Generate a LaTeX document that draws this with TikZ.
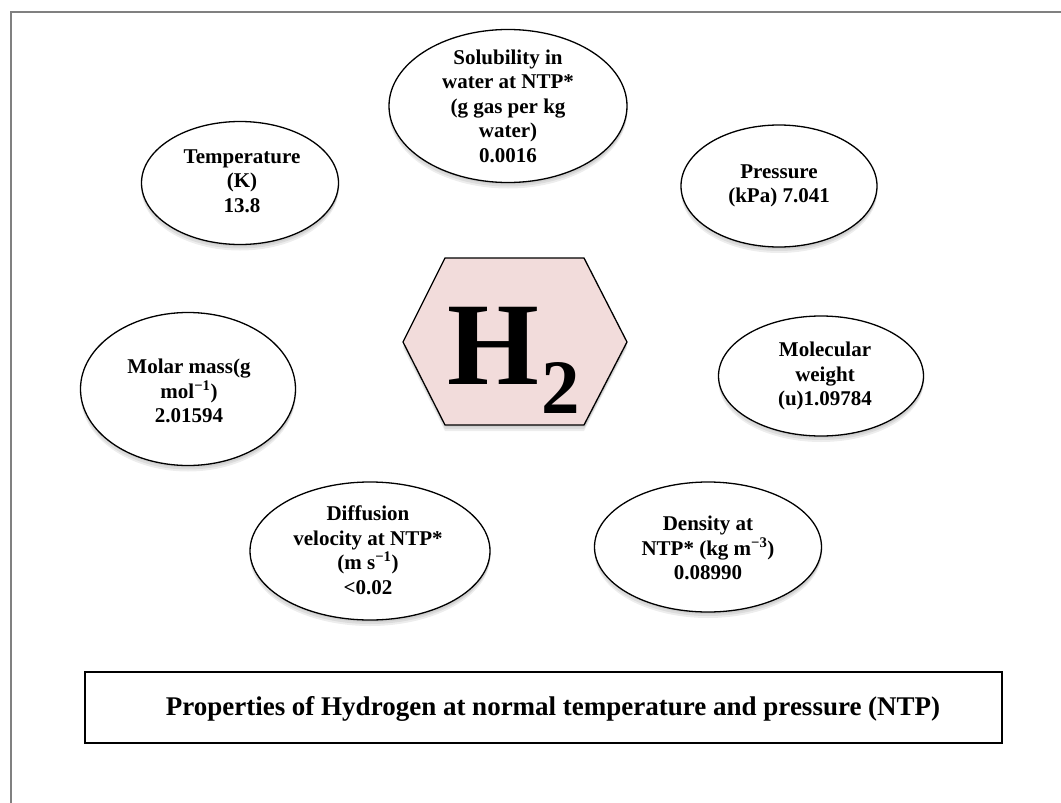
\documentclass[tikz,border=0pt]{standalone}
\usepackage{fontspec}
\setmainfont{Liberation Serif}
\usetikzlibrary{shapes.geometric,shadows}
\definecolor{framegray}{RGB}{128,128,128}
\definecolor{hexpink}{RGB}{242,220,219}
\begin{document}
\begin{tikzpicture}[x=1pt,y=-1pt,
  soft/.style={
    general shadow={fill=black,opacity=.05,shadow yshift=-2pt,shadow xshift=1pt},
    general shadow={fill=black,opacity=.07,shadow yshift=-4pt},
    general shadow={fill=black,opacity=.07,shadow yshift=-6pt}},
  prop/.style={ellipse,draw=black,line width=1.3pt,fill=white,soft,inner sep=0pt},
  proptext/.style={align=center,inner sep=0pt,font=\fontsize{21}{24.5}\selectfont\bfseries},
  hexstyle/.style={draw=black,line width=1.3pt,fill=hexpink,soft},
  titlebox/.style={draw=black,line width=2pt,rectangle,inner sep=0pt},
  titletext/.style={inner sep=0pt,font=\fontsize{27}{30}\selectfont\bfseries}]
\useasboundingbox (0,0) rectangle (1061,803);
\fill[white] (0,0) rectangle (1061,803);
\draw[framegray,line width=1.2pt] (11,803) -- (11,12) -- (1061,12);

% central hexagon
\draw[hexstyle] (403,342) -- (445,258) -- (584,258) -- (627,342) -- (584,425) -- (445,425) -- cycle;
\node[inner sep=0pt] (h2) at (514,360) {\fontsize{118}{118}\selectfont\bfseries H\kern2pt\raisebox{-29pt}{\fontsize{77}{77}\selectfont 2}};

% ellipses
\node[prop,minimum width=238pt,minimum height=153pt] (sol) at (508,106) {};
\node[proptext] (solt) at (sol.center) {Solubility in\\water at NTP*\\(g gas per kg\\water)\\0.0016};

\node[prop,minimum width=197pt,minimum height=123pt] (temp) at (240,183) {};
\node[proptext] (tempt) at (242,181) {Temperature\\(K)\\13.8};

\node[prop,minimum width=196pt,minimum height=122pt] (pres) at (779,186) {};
\node[proptext] (prest) at (779,186) {Pressure\\(kPa) 7.041};

\node[prop,minimum width=215pt,minimum height=153pt] (molar) at (188,389) {};
\node[proptext] (molart) at (189,391) {Molar mass(g\\mol\textsuperscript{−1})\\2.01594};

\node[prop,minimum width=205pt,minimum height=120pt] (molec) at (821,376) {};
\node[proptext] (molect) at (825,376) {Molecular\\weight\\(u)1.09784};

\node[prop,minimum width=240pt,minimum height=138pt] (diff) at (370,551) {};
\node[proptext] (difft) at (368,550) {Diffusion\\velocity at NTP*\\(m s\textsuperscript{−1})\\<0.02};

\node[prop,minimum width=227pt,minimum height=130pt] (dens) at (708,547) {};
\node[proptext] (denst) at (708,548) {Density at\\NTP* (kg m\textsuperscript{−3})\\0.08990};

% title
\node[titlebox,minimum width=917pt,minimum height=71pt] (tbox) at (543.5,707.5) {};
\node[titletext] (ttext) at (553,709) {Properties of Hydrogen at normal temperature and pressure (NTP)};
\end{tikzpicture}
\end{document}
